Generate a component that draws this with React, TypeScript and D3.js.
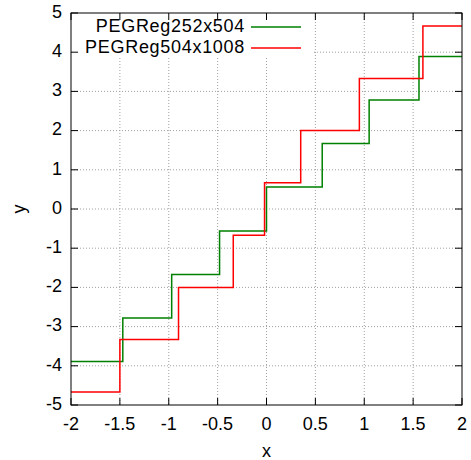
import React from "react";
import * as d3 from "d3";

const xTicks = [-2, -1.5, -1, -0.5, 0, 0.5, 1, 1.5, 2];
const yTicks = [-5, -4, -3, -2, -1, 0, 1, 2, 3, 4, 5];

const seriesNames = ["PEGReg252x504", "PEGReg504x1008"];
const greenBreaks = [-2, -1.47, -0.97, -0.48, 0.0, 0.57, 1.05, 1.56, 2];
const greenLevels = [-3.89, -2.78, -1.67, -0.56, 0.56, 1.67, 2.78, 3.89];
const redBreaks = [-2, -1.5, -0.9, -0.34, -0.02, 0.35, 0.95, 1.6, 2];
const redLevels = [-4.67, -3.33, -2.0, -0.67, 0.67, 2.0, 3.33, 4.67];

const W = 471, H = 460;
const L = 71, R = 462, T = 13, B = 405;
const FONT = "'Liberation Sans', Arial, sans-serif";

function stepPoints(breaks: number[], levels: number[]): [number, number][] {
  const pts: [number, number][] = levels.map((v, i) => [breaks[i], v]);
  pts.push([breaks[breaks.length - 1], levels[levels.length - 1]]);
  return pts;
}

export default function App() {
  const x = d3.scaleLinear().domain([-2, 2]).range([L, R]);
  const y = d3.scaleLinear().domain([-5, 5]).range([B, T]);
  const line = d3
    .line<[number, number]>()
    .x((d) => x(d[0]))
    .y((d) => y(d[1]))
    .curve(d3.curveStepAfter);

  const series = [
    { name: seriesNames[0], color: "#008000", pts: stepPoints(greenBreaks, greenLevels) },
    { name: seriesNames[1], color: "#ff0000", pts: stepPoints(redBreaks, redLevels) },
  ];

  const tickLen = 7;
  const gridColor = "#a0a0a0";
  const keyRight = 312, keyBottom = 57;
  const keyRows = [27, 48];

  return (
    <svg width={W} height={H} style={{ position: "absolute", left: 0, top: 0, background: "#fff" }}>
      <rect x={0} y={0} width={W} height={H} fill="#fff" />
      {xTicks.slice(1, -1).map((t) => (
        <line key={"gx" + t} x1={x(t)} x2={x(t)} y1={T} y2={B} stroke={gridColor} strokeWidth={1} strokeDasharray="1,2" />
      ))}
      {yTicks.slice(1, -1).map((t) => (
        <line key={"gy" + t} x1={L} x2={R} y1={y(t)} y2={y(t)} stroke={gridColor} strokeWidth={1} strokeDasharray="1,2" />
      ))}
      <rect x={L} y={T} width={keyRight - L} height={keyBottom - T} fill="#fff" />
      {xTicks.map((t) => (
        <g key={"tx" + t}>
          <line x1={x(t)} x2={x(t)} y1={B} y2={B - tickLen} stroke="#000" />
          <line x1={x(t)} x2={x(t)} y1={T} y2={T + tickLen} stroke="#000" />
          <text x={x(t)} y={B + 20} fontFamily={FONT} fontSize={18} textAnchor="middle" dominantBaseline="middle">
            {String(t)}
          </text>
        </g>
      ))}
      {yTicks.map((t) => (
        <g key={"ty" + t}>
          <line x1={L} x2={L + tickLen} y1={y(t)} y2={y(t)} stroke="#000" />
          <line x1={R} x2={R - tickLen} y1={y(t)} y2={y(t)} stroke="#000" />
          <text x={L - 9} y={y(t)} fontFamily={FONT} fontSize={18} textAnchor="end" dominantBaseline="middle">
            {String(t)}
          </text>
        </g>
      ))}
      {series.map((s) => (
        <path key={s.name} d={line(s.pts) || ""} fill="none" stroke={s.color} strokeWidth={1.5} />
      ))}
      <rect x={L} y={T} width={R - L} height={B - T} fill="none" stroke="#000" strokeWidth={1} />
      {series.map((s, i) => (
        <g key={"k" + s.name}>
          <text
            x={245}
            y={keyRows[i]}
            fontFamily={FONT}
            fontSize={18}
            letterSpacing={0.7}
            textAnchor="end"
            dominantBaseline="middle"
          >
            {s.name}
          </text>
          <line x1={251} x2={301} y1={keyRows[i]} y2={keyRows[i]} stroke={s.color} strokeWidth={1.5} />
        </g>
      ))}
      <text x={(L + R) / 2} y={452} fontFamily={FONT} fontSize={18} textAnchor="middle" dominantBaseline="middle">
        x
      </text>
      <text
        x={20}
        y={(T + B) / 2}
        fontFamily={FONT}
        fontSize={18}
        textAnchor="middle"
        dominantBaseline="middle"
        transform={`rotate(-90, 20, ${(T + B) / 2})`}
      >
        y
      </text>
    </svg>
  );
}
